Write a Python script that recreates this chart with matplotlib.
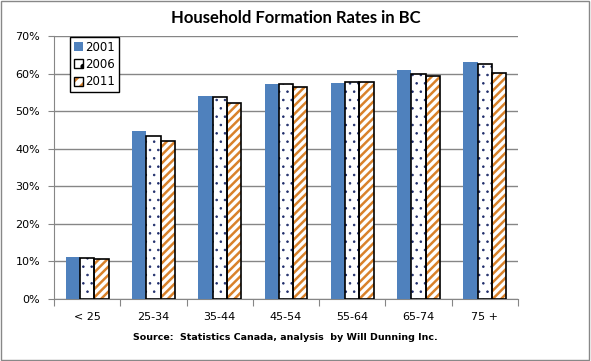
import matplotlib.pyplot as plt
import matplotlib.patches as mpatches
import numpy as np

categories = ['< 25', '25-34', '35-44', '45-54', '55-64', '65-74', '75 +']
years = ['2001', '2006', '2011']
rates_2001 = [11.2, 44.7, 54.0, 57.2, 57.6, 60.9, 63.1]
rates_2006 = [10.8, 43.3, 53.7, 57.2, 57.8, 59.9, 62.5]
rates_2011 = [10.6, 42.0, 52.1, 56.3, 57.8, 59.4, 60.1]

blue = '#4F81BD'
orange = '#D9822B'
navy = '#1F2D6B'
grid_grey = '#868686'

fig = plt.figure(figsize=(5.91, 3.61), dpi=100)
ax = fig.add_axes([54 / 591, 1 - 299 / 361, 464 / 591, 263 / 361])

x = np.arange(len(categories)) + 0.5
w = 0.215

ax.bar(x - w, rates_2001, w, color=blue, linewidth=0, zorder=3)

# 2006: dotted fill
plt.rcParams['hatch.linewidth'] = 0.6
ax.bar(x, rates_2006, w, color='white', edgecolor=navy, hatch='..',
       linewidth=0, zorder=3)
dot_handle = mpatches.Patch(facecolor='white', edgecolor='black', hatch='.', linewidth=1)
ax.bar(x, rates_2006, w, fill=False, edgecolor='black', linewidth=1.2, zorder=4)

# 2011: diagonal stripes
plt.rcParams['hatch.linewidth'] = 1.8
ax.bar(x + w, rates_2011, w, color='white', edgecolor=orange, hatch='////',
       linewidth=0, zorder=3)
stripe_handle = mpatches.Patch(facecolor='white', edgecolor=orange, hatch='///', linewidth=0)
ax.bar(x + w, rates_2011, w, fill=False, edgecolor='black', linewidth=1.2, zorder=4)
stripe_border = mpatches.Patch(fill=False, edgecolor='black', linewidth=1)

ax.set_xlim(0, len(categories))
ax.set_ylim(0, 70)
ax.set_yticks(range(0, 71, 10))
ax.set_yticklabels([f'{v}%' for v in range(0, 71, 10)])
ax.yaxis.grid(True, color=grid_grey, linewidth=1)
ax.set_axisbelow(True)

ax.set_xticks(np.arange(len(categories) + 1))
ax.set_xticklabels([])
ax.set_xticks(x, minor=True)
ax.set_xticklabels(categories, minor=True)
ax.tick_params(axis='x', which='major', direction='out', length=5, color=grid_grey)
ax.tick_params(axis='x', which='minor', length=0, pad=9, labelsize=8)
ax.tick_params(axis='y', direction='out', length=4, color=grid_grey, labelsize=8, pad=6)

for s in ['top', 'right']:
    ax.spines[s].set_visible(False)
ax.spines['left'].set_color(grid_grey)
ax.spines['bottom'].set_color(grid_grey)

handles = [mpatches.Patch(facecolor=blue, linewidth=0), dot_handle,
           (stripe_handle, stripe_border)]
leg = ax.legend(handles, years, loc='upper left', bbox_to_anchor=(0.035, 0.995),
                fancybox=False, edgecolor='black', fontsize=8.5,
                handlelength=0.8, handleheight=0.8, handletextpad=0.2,
                borderpad=0.3, labelspacing=0.35, borderaxespad=0, framealpha=1)
leg.get_frame().set_linewidth(1)

fig.text(0.5, 1 - 18 / 361, 'Household Formation Rates in BC', ha='center', va='center',
         fontsize=12, fontweight='bold', family='Lato')
fig.text(285 / 591, 1 - 337 / 361, 'Source:  Statistics Canada, analysis  by Will Dunning Inc.',
         ha='center', va='center', fontsize=6.8, fontweight='bold')

border = mpatches.Rectangle((0.002, 0.003), 0.995, 0.994, transform=fig.transFigure,
                            fill=False, edgecolor='#888888', linewidth=1)
fig.patches.append(border)

fig.savefig('out.png', dpi=100)
